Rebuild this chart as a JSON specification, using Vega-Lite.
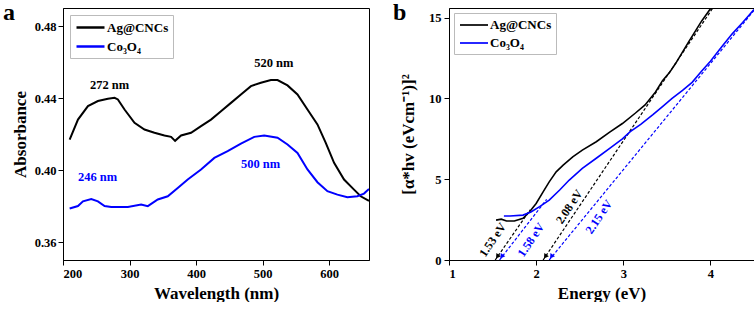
{
  "$schema": "https://vega.github.io/schema/vega-lite/v6.json",
  "padding": {"left": 2, "top": 0, "right": 2, "bottom": 0},
  "spacing": 22,
  "background": "white",
  "config": {
    "font": "Liberation Serif",
    "view": {"stroke": "black", "strokeWidth": 1},
    "axis": {
      "labelFont": "Liberation Serif", "labelFontWeight": "bold", "labelFontSize": 12.5, "labelColor": "black",
      "titleFont": "Liberation Serif", "titleFontWeight": "bold", "titleFontSize": 17, "titleColor": "black",
      "domainColor": "black", "tickColor": "black", "tickSize": 5, "grid": false, "labelPadding": 2
    },
    "legend": {
      "labelFont": "Liberation Serif", "labelFontWeight": "bold", "labelFontSize": 13, "labelColor": "black",
      "symbolType": "M-2,0H2", "symbolSize": 196, "symbolStrokeWidth": 2.5, "symbolOffset": 8, "labelOffset": 8,
      "strokeColor": "#bbbbbb", "fillColor": "white", "padding": 4, "rowPadding": 3,
      "orient": "top-left", "offset": 7, "title": null, "labelLimit": 200
    }
  },
  "resolve": {"legend": {"color": "independent"}, "scale": {"color": "independent"}},
  "datasets": {
    "absA": [
      {"s": "Ag@CNCs", "wl": 210, "abs": 0.4169}, {"s": "Ag@CNCs", "wl": 222.5, "abs": 0.428}, {"s": "Ag@CNCs", "wl": 237.5, "abs": 0.4355},
      {"s": "Ag@CNCs", "wl": 252.5, "abs": 0.4383}, {"s": "Ag@CNCs", "wl": 267.5, "abs": 0.4396}, {"s": "Ag@CNCs", "wl": 277.5, "abs": 0.4401},
      {"s": "Ag@CNCs", "wl": 282.5, "abs": 0.4392}, {"s": "Ag@CNCs", "wl": 292.5, "abs": 0.4336}, {"s": "Ag@CNCs", "wl": 307.5, "abs": 0.4262},
      {"s": "Ag@CNCs", "wl": 322.5, "abs": 0.4225}, {"s": "Ag@CNCs", "wl": 337.5, "abs": 0.4207}, {"s": "Ag@CNCs", "wl": 352.5, "abs": 0.4192},
      {"s": "Ag@CNCs", "wl": 362.5, "abs": 0.4184}, {"s": "Ag@CNCs", "wl": 368.5, "abs": 0.4162}, {"s": "Ag@CNCs", "wl": 377.5, "abs": 0.4192},
      {"s": "Ag@CNCs", "wl": 392.5, "abs": 0.4207}, {"s": "Ag@CNCs", "wl": 407.5, "abs": 0.4244}, {"s": "Ag@CNCs", "wl": 422.5, "abs": 0.428},
      {"s": "Ag@CNCs", "wl": 437.5, "abs": 0.4327}, {"s": "Ag@CNCs", "wl": 452.5, "abs": 0.4373}, {"s": "Ag@CNCs", "wl": 467.5, "abs": 0.442},
      {"s": "Ag@CNCs", "wl": 482.5, "abs": 0.4466}, {"s": "Ag@CNCs", "wl": 497.5, "abs": 0.4485}, {"s": "Ag@CNCs", "wl": 512.5, "abs": 0.45},
      {"s": "Ag@CNCs", "wl": 522.5, "abs": 0.45}, {"s": "Ag@CNCs", "wl": 537.5, "abs": 0.447}, {"s": "Ag@CNCs", "wl": 552.5, "abs": 0.442},
      {"s": "Ag@CNCs", "wl": 567.5, "abs": 0.4336}, {"s": "Ag@CNCs", "wl": 582.5, "abs": 0.4253}, {"s": "Ag@CNCs", "wl": 595, "abs": 0.4151},
      {"s": "Ag@CNCs", "wl": 607.5, "abs": 0.404}, {"s": "Ag@CNCs", "wl": 622.5, "abs": 0.3947}, {"s": "Ag@CNCs", "wl": 637.5, "abs": 0.3891},
      {"s": "Ag@CNCs", "wl": 647.5, "abs": 0.3854}, {"s": "Ag@CNCs", "wl": 660, "abs": 0.3828},
      {"s": "Co₃O₄", "wl": 210, "abs": 0.3786}, {"s": "Co₃O₄", "wl": 222.5, "abs": 0.38}, {"s": "Co₃O₄", "wl": 230, "abs": 0.3826},
      {"s": "Co₃O₄", "wl": 242.5, "abs": 0.3839}, {"s": "Co₃O₄", "wl": 252.5, "abs": 0.3826}, {"s": "Co₃O₄", "wl": 262.5, "abs": 0.38},
      {"s": "Co₃O₄", "wl": 272.5, "abs": 0.3795}, {"s": "Co₃O₄", "wl": 297.5, "abs": 0.3795}, {"s": "Co₃O₄", "wl": 317.5, "abs": 0.3808},
      {"s": "Co₃O₄", "wl": 327.5, "abs": 0.3799}, {"s": "Co₃O₄", "wl": 342.5, "abs": 0.3836}, {"s": "Co₃O₄", "wl": 357.5, "abs": 0.3854},
      {"s": "Co₃O₄", "wl": 372.5, "abs": 0.39}, {"s": "Co₃O₄", "wl": 387.5, "abs": 0.3947}, {"s": "Co₃O₄", "wl": 407.5, "abs": 0.4003},
      {"s": "Co₃O₄", "wl": 427.5, "abs": 0.4067}, {"s": "Co₃O₄", "wl": 447.5, "abs": 0.4105}, {"s": "Co₃O₄", "wl": 467.5, "abs": 0.4147},
      {"s": "Co₃O₄", "wl": 487.5, "abs": 0.4184}, {"s": "Co₃O₄", "wl": 502.5, "abs": 0.4191}, {"s": "Co₃O₄", "wl": 522.5, "abs": 0.4179},
      {"s": "Co₃O₄", "wl": 537.5, "abs": 0.4142}, {"s": "Co₃O₄", "wl": 552.5, "abs": 0.4095}, {"s": "Co₃O₄", "wl": 567.5, "abs": 0.4003},
      {"s": "Co₃O₄", "wl": 582.5, "abs": 0.3932}, {"s": "Co₃O₄", "wl": 597.5, "abs": 0.3882}, {"s": "Co₃O₄", "wl": 612.5, "abs": 0.3863},
      {"s": "Co₃O₄", "wl": 627.5, "abs": 0.3849}, {"s": "Co₃O₄", "wl": 642.5, "abs": 0.3854}, {"s": "Co₃O₄", "wl": 652.5, "abs": 0.3869},
      {"s": "Co₃O₄", "wl": 660, "abs": 0.3895}
    ],
    "labA": [
      {"t": "272 nm", "c": "black", "wl": 270, "abs": 0.4475},
      {"t": "520 nm", "c": "black", "wl": 517, "abs": 0.4592},
      {"t": "246 nm", "c": "#0000ff", "wl": 252, "abs": 0.396},
      {"t": "500 nm", "c": "#0000ff", "wl": 497, "abs": 0.4034}
    ],
    "tauc": [
      {"s": "Ag@CNCs", "e": 1.54, "v": 2.47}, {"s": "Ag@CNCs", "e": 1.6, "v": 2.53}, {"s": "Ag@CNCs", "e": 1.66, "v": 2.41},
      {"s": "Ag@CNCs", "e": 1.75, "v": 2.41}, {"s": "Ag@CNCs", "e": 1.85, "v": 2.58}, {"s": "Ag@CNCs", "e": 1.925, "v": 2.99},
      {"s": "Ag@CNCs", "e": 2.0, "v": 3.5}, {"s": "Ag@CNCs", "e": 2.08, "v": 4.22}, {"s": "Ag@CNCs", "e": 2.15, "v": 4.84},
      {"s": "Ag@CNCs", "e": 2.23, "v": 5.46}, {"s": "Ag@CNCs", "e": 2.31, "v": 5.87}, {"s": "Ag@CNCs", "e": 2.42, "v": 6.39},
      {"s": "Ag@CNCs", "e": 2.53, "v": 6.8}, {"s": "Ag@CNCs", "e": 2.69, "v": 7.32}, {"s": "Ag@CNCs", "e": 2.84, "v": 7.9},
      {"s": "Ag@CNCs", "e": 2.99, "v": 8.45}, {"s": "Ag@CNCs", "e": 3.14, "v": 9.1}, {"s": "Ag@CNCs", "e": 3.25, "v": 9.6},
      {"s": "Ag@CNCs", "e": 3.37, "v": 10.4}, {"s": "Ag@CNCs", "e": 3.45, "v": 11.1}, {"s": "Ag@CNCs", "e": 3.53, "v": 11.6},
      {"s": "Ag@CNCs", "e": 3.6, "v": 12.16}, {"s": "Ag@CNCs", "e": 3.75, "v": 13.5}, {"s": "Ag@CNCs", "e": 3.9, "v": 14.8},
      {"s": "Ag@CNCs", "e": 4.0, "v": 15.55}, {"s": "Ag@CNCs", "e": 4.02, "v": 15.7},
      {"s": "Co₃O₄", "e": 1.63, "v": 2.72}, {"s": "Co₃O₄", "e": 1.7, "v": 2.72}, {"s": "Co₃O₄", "e": 1.85, "v": 2.78},
      {"s": "Co₃O₄", "e": 1.94, "v": 2.97}, {"s": "Co₃O₄", "e": 2.04, "v": 3.3}, {"s": "Co₃O₄", "e": 2.15, "v": 3.71},
      {"s": "Co₃O₄", "e": 2.27, "v": 4.33}, {"s": "Co₃O₄", "e": 2.38, "v": 4.95}, {"s": "Co₃O₄", "e": 2.53, "v": 5.67},
      {"s": "Co₃O₄", "e": 2.69, "v": 6.3}, {"s": "Co₃O₄", "e": 2.84, "v": 6.9}, {"s": "Co₃O₄", "e": 2.99, "v": 7.5},
      {"s": "Co₃O₄", "e": 3.08, "v": 7.95}, {"s": "Co₃O₄", "e": 3.2, "v": 8.4}, {"s": "Co₃O₄", "e": 3.34, "v": 9.0},
      {"s": "Co₃O₄", "e": 3.45, "v": 9.5}, {"s": "Co₃O₄", "e": 3.56, "v": 10.0}, {"s": "Co₃O₄", "e": 3.68, "v": 10.5},
      {"s": "Co₃O₄", "e": 3.79, "v": 11.0}, {"s": "Co₃O₄", "e": 3.9, "v": 11.7}, {"s": "Co₃O₄", "e": 4.0, "v": 12.3},
      {"s": "Co₃O₄", "e": 4.13, "v": 13.2}, {"s": "Co₃O₄", "e": 4.25, "v": 14.0}, {"s": "Co₃O₄", "e": 4.37, "v": 14.7},
      {"s": "Co₃O₄", "e": 4.5, "v": 15.5}
    ],
    "tan": [
      {"id": "t1", "c": "black", "e": 1.53, "v": 0}, {"id": "t1", "c": "black", "e": 1.93, "v": 3.1},
      {"id": "t2", "c": "#0000ff", "e": 1.58, "v": 0}, {"id": "t2", "c": "#0000ff", "e": 2.12, "v": 3.75},
      {"id": "t3", "c": "black", "e": 2.08, "v": 0}, {"id": "t3", "c": "black", "e": 4.04, "v": 15.7},
      {"id": "t4", "c": "#0000ff", "e": 2.15, "v": 0}, {"id": "t4", "c": "#0000ff", "e": 4.5, "v": 15.45}
    ],
    "arr": [
      {"c": "black", "e": 1.56, "v": 0.25}, {"c": "#0000ff", "e": 1.61, "v": 0.25},
      {"c": "black", "e": 2.11, "v": 0.25}, {"c": "#0000ff", "e": 2.18, "v": 0.25}
    ],
    "labB": [
      {"t": "1.53 eV", "c": "black", "e": 1.5, "v": 1.25},
      {"t": "1.58 eV", "c": "#0000ff", "e": 1.94, "v": 1.25},
      {"t": "2.08 eV", "c": "black", "e": 2.38, "v": 3.3},
      {"t": "2.15 eV", "c": "#0000ff", "e": 2.72, "v": 2.68}
    ],
    "panelA": [{"t": "a"}],
    "panelB": [{"t": "b"}]
  },
  "hconcat": [
    {
      "width": 306, "height": 252,
      "layer": [
        {
          "data": {"name": "absA"},
          "mark": {"type": "line", "strokeWidth": 2, "clip": true},
          "encoding": {
            "x": {"field": "wl", "type": "quantitative", "scale": {"domain": [200, 660], "nice": false}, "axis": {"values": [200, 300, 400, 500, 600], "title": "Wavelength (nm)", "titlePadding": 6}},
            "y": {"field": "abs", "type": "quantitative", "scale": {"domain": [0.35, 0.49], "nice": false, "zero": false}, "axis": {"values": [0.36, 0.40, 0.44, 0.48], "format": ".2f", "title": "Absorbance", "titlePadding": 5}},
            "color": {"field": "s", "type": "nominal", "scale": {"domain": ["Ag@CNCs", "Co₃O₄"], "range": ["black", "#0000ff"]}, "legend": {}}
          }
        },
        {
          "data": {"name": "labA"},
          "mark": {"type": "text", "fontWeight": "bold", "fontSize": 12.5, "font": "Liberation Serif"},
          "encoding": {
            "x": {"field": "wl", "type": "quantitative"},
            "y": {"field": "abs", "type": "quantitative"},
            "text": {"field": "t"},
            "color": {"field": "c", "type": "nominal", "scale": null}
          }
        },
        {
          "data": {"name": "panelA"},
          "mark": {"type": "text", "fontWeight": "bold", "fontSize": 24, "font": "Liberation Serif", "align": "left", "baseline": "alphabetic", "dx": -60, "dy": 12, "color": "black"},
          "encoding": {
            "x": {"datum": 200, "type": "quantitative"},
            "y": {"datum": 0.49, "type": "quantitative"},
            "text": {"field": "t"}
          }
        }
      ]
    },
    {
      "width": 305, "height": 252,
      "layer": [
        {
          "data": {"name": "tan"},
          "mark": {"type": "line", "strokeWidth": 1.2, "strokeDash": [3, 2], "clip": true},
          "encoding": {
            "x": {"field": "e", "type": "quantitative"},
            "y": {"field": "v", "type": "quantitative"},
            "detail": {"field": "id"},
            "color": {"field": "c", "type": "nominal", "scale": null}
          }
        },
        {
          "data": {"name": "tauc"},
          "mark": {"type": "line", "strokeWidth": 1.6, "clip": true},
          "encoding": {
            "x": {"field": "e", "type": "quantitative", "scale": {"domain": [1, 4.5], "nice": false}, "axis": {"values": [1, 2, 3, 4], "format": "d", "title": "Energy (eV)", "titlePadding": 6}},
            "y": {"field": "v", "type": "quantitative", "scale": {"domain": [0, 15.6], "nice": false}, "axis": {"values": [0, 5, 10, 15], "format": "d", "title": "[α*hv (eVcm⁻¹)]²", "titlePadding": 11, "labelPadding": 3}},
            "color": {"field": "s", "type": "nominal", "scale": {"domain": ["Ag@CNCs", "Co₃O₄"], "range": ["black", "#0000ff"]}, "legend": {"symbolStrokeWidth": 1.7, "offset": 5}}
          }
        },
        {
          "data": {"name": "arr"},
          "mark": {"type": "point", "shape": "triangle", "filled": true, "size": 30, "angle": 214, "opacity": 1},
          "encoding": {
            "x": {"field": "e", "type": "quantitative"},
            "y": {"field": "v", "type": "quantitative"},
            "color": {"field": "c", "type": "nominal", "scale": null}
          }
        },
        {
          "data": {"name": "labB"},
          "mark": {"type": "text", "fontWeight": "bold", "fontSize": 12, "font": "Liberation Serif", "angle": 304},
          "encoding": {
            "x": {"field": "e", "type": "quantitative"},
            "y": {"field": "v", "type": "quantitative"},
            "text": {"field": "t"},
            "color": {"field": "c", "type": "nominal", "scale": null}
          }
        },
        {
          "data": {"name": "panelB"},
          "mark": {"type": "text", "fontWeight": "bold", "fontSize": 24, "font": "Liberation Serif", "align": "left", "baseline": "alphabetic", "dx": -56, "dy": 12, "color": "black"},
          "encoding": {
            "x": {"datum": 1, "type": "quantitative"},
            "y": {"datum": 15.6, "type": "quantitative"},
            "text": {"field": "t"}
          }
        }
      ]
    }
  ]
}
